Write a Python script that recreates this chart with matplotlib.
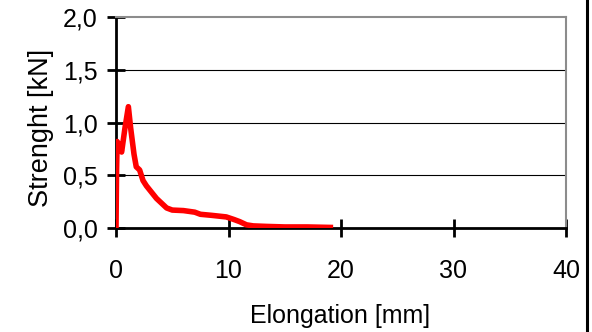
import matplotlib.pyplot as plt
from matplotlib.lines import Line2D
from matplotlib.ticker import FuncFormatter

plt.rcParams['font.family'] = ['Liberation Sans', 'DejaVu Sans']

# curve (elongation mm, strength kN)
elong = [0.0, 0.05, 0.1, 0.3, 0.5, 0.8, 1.1, 1.3, 1.6, 1.8, 2.1, 2.4, 2.7, 3.0,
         3.3, 3.6, 4.0, 4.5, 5.0, 6.0, 7.0, 7.5, 8.5, 9.8, 10.5, 11.0, 11.6,
         12.2, 13.4, 15.0, 17.0, 19.3]
strength = [0.0, 0.55, 0.82, 0.78, 0.72, 0.95, 1.15, 0.95, 0.7, 0.58, 0.55, 0.45,
            0.40, 0.36, 0.32, 0.28, 0.24, 0.19, 0.17, 0.165, 0.15, 0.13, 0.12,
            0.105, 0.08, 0.06, 0.03, 0.02, 0.015, 0.01, 0.01, 0.005]

xticks = [0, 10, 20, 30, 40]
yticks = [0.0, 0.5, 1.0, 1.5, 2.0]

fig = plt.figure(figsize=(5.92, 3.32), dpi=100)
ax = fig.add_axes([116 / 592, 1 - 228 / 332, 450 / 592, 211 / 332])

ax.plot(elong, strength, color='#ff0000', lw=4, solid_capstyle='butt', zorder=3)

ax.set_xlim(0, 40)
ax.set_ylim(0, 2.0)
ax.set_xticks(xticks)
ax.set_yticks(yticks)
ax.yaxis.set_major_formatter(FuncFormatter(lambda v, p: f"{v:.1f}".replace('.', ',')))
for y in yticks[1:-1]:
    ax.axhline(y, color='black', lw=0.8, zorder=1)

ax.tick_params(axis='both', direction='inout', length=13, width=2, labelsize=18, colors='black')
ax.tick_params(axis='x', pad=15.5)
ax.tick_params(axis='y', pad=6.5)

for side in ['left', 'bottom']:
    ax.spines[side].set_linewidth(2)
    ax.spines[side].set_color('black')
for side in ['top', 'right']:
    ax.spines[side].set_linewidth(1.5)
    ax.spines[side].set_color('#8c8c8c')

fig.text(48 / 592, 1 - 127.5 / 332, 'Strenght [kN]', rotation=90, rotation_mode='anchor',
         ha='center', va='baseline', fontsize=19.5)
fig.text(340.5 / 592, 1 - 323 / 332, 'Elongation [mm]', ha='center', va='baseline', fontsize=18)

# frame edge on the right of the picture
fig.add_artist(Line2D([586.5 / 592, 586.5 / 592], [0, 1], color='black', lw=2.2, transform=fig.transFigure))

fig.savefig('out.png', dpi=100)
